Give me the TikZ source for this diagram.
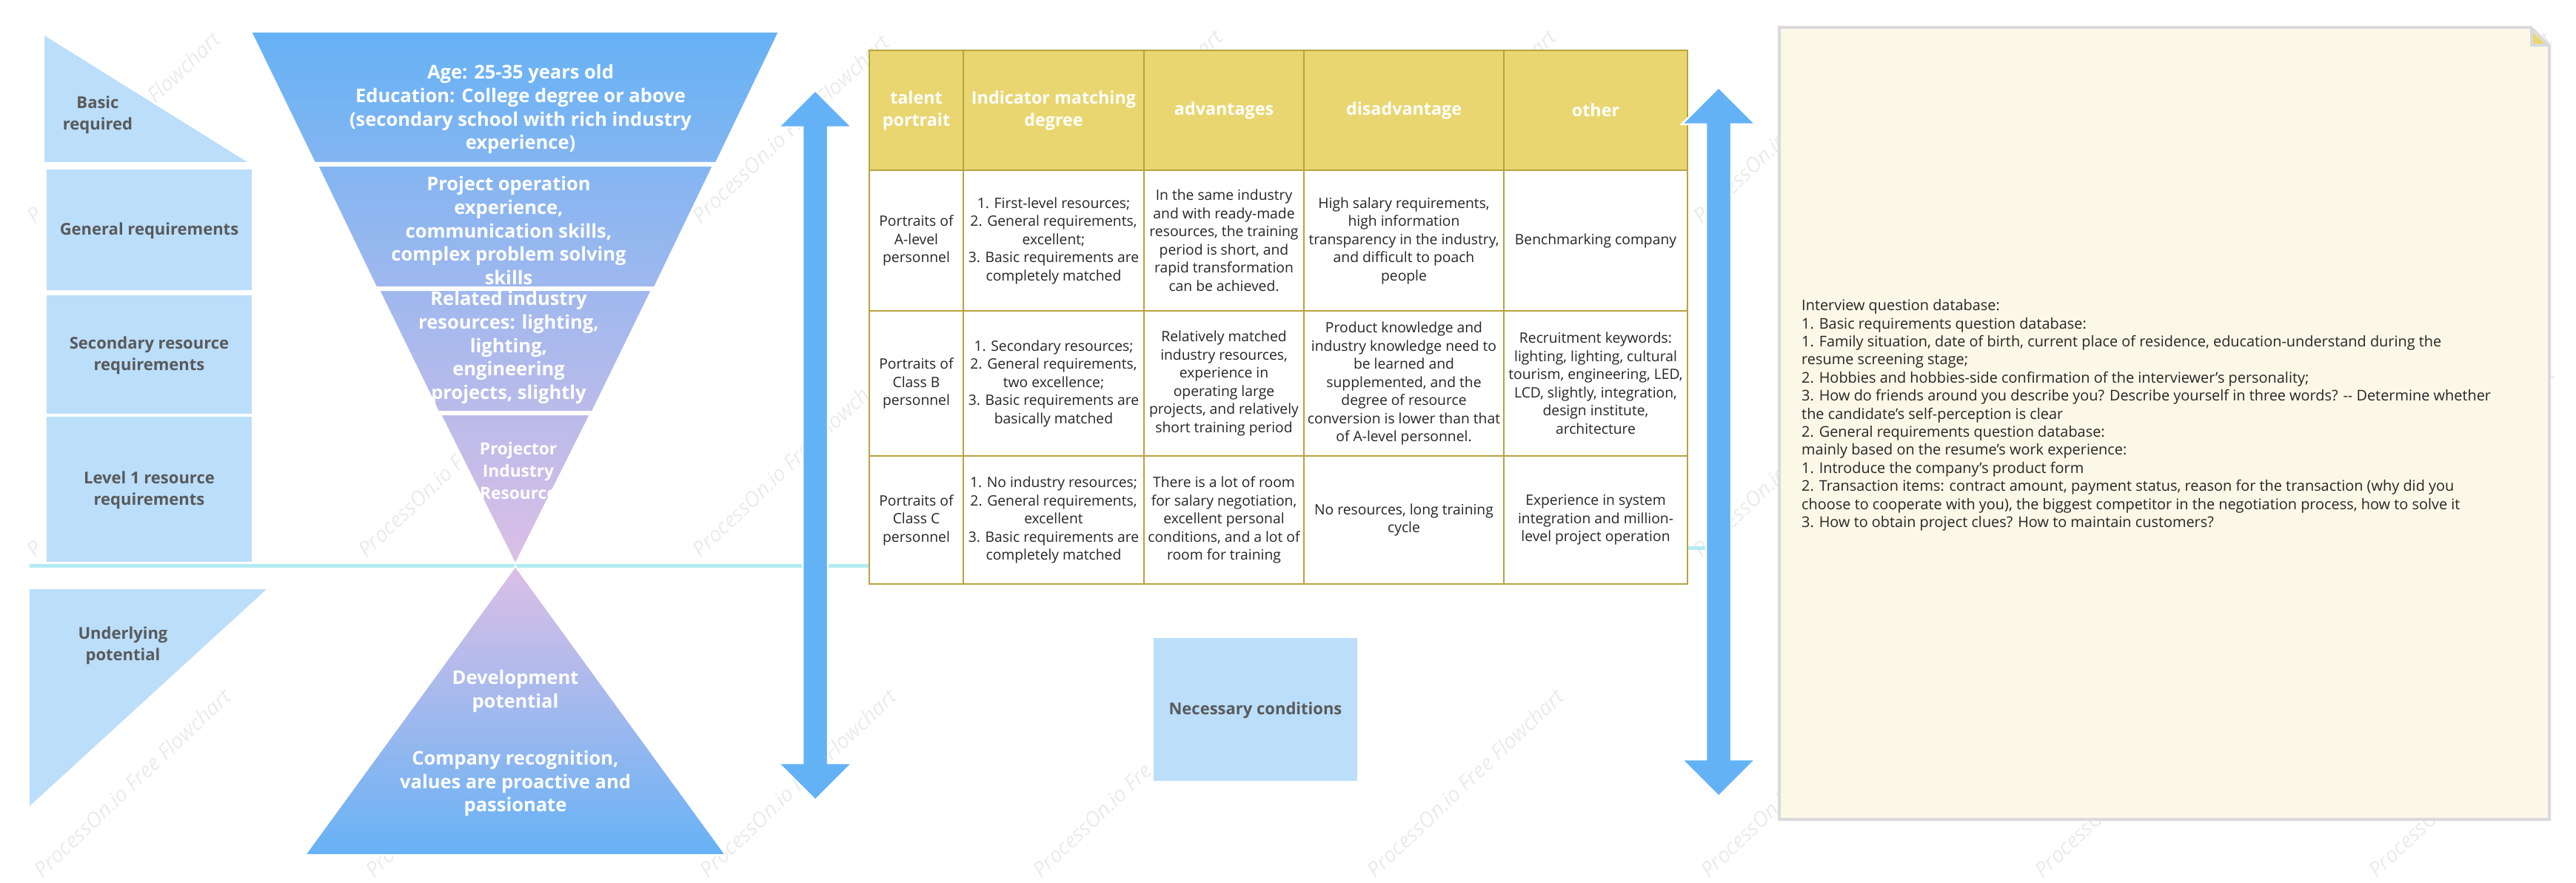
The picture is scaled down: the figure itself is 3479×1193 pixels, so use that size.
\documentclass[tikz,border=0pt]{standalone}
\usepackage{fontspec}
\setmainfont{Open Sans}
\definecolor{SoftBlue}{HTML}{BBDEFB}
\definecolor{ArrowBlue}{HTML}{64B2F6}
\definecolor{AxisCyan}{HTML}{B2EBF2}
\definecolor{LabelGray}{HTML}{5A5A5A}
\definecolor{HeadYellow}{HTML}{E9D670}
\definecolor{GridOlive}{HTML}{B8A33F}
\definecolor{NoteCream}{HTML}{FCF8E8}
\definecolor{NoteEdge}{HTML}{DADADA}
\definecolor{MarkGray}{HTML}{EBEBEB}
\definecolor{FunA}{RGB}{102,178,245}
\definecolor{FunB}{RGB}{131,181,241}
\definecolor{FunC}{RGB}{159,184,238}
\definecolor{FunD}{RGB}{186,187,234}
\definecolor{FunE}{RGB}{220,191,230}

\begin{document}
\begin{tikzpicture}[x=1pt,y=-1pt]
	\tikzstyle{SoftShape}=[fill=SoftBlue,draw=white,line width=2pt]
	\tikzstyle{LabelStyle}=[inner sep=0pt,yshift=-1.5pt,align=center,text=LabelGray,font=\fontsize{22}{28.5}\selectfont\bfseries]
	\tikzstyle{FunnelPart}=[draw=white,line width=2pt]
	\tikzstyle{FunnelText}=[inner sep=0pt,yshift=-1.5pt,align=center,text=white,font=\fontsize{25.5}{31.8}\selectfont\bfseries]
	\tikzstyle{Cell}=[draw=GridOlive,line width=1.2pt,fill=white,inner sep=0pt,align=center,text=black!85,font=\fontsize{19.3}{24.5}\selectfont]
	\tikzstyle{HeadCell}=[Cell,fill=HeadYellow,text=white,font=\fontsize{23.3}{30}\selectfont\bfseries]
	\tikzstyle{ColA}=[minimum width=127pt]
	\tikzstyle{ColB}=[minimum width=244pt]
	\tikzstyle{ColC}=[minimum width=216pt]
	\tikzstyle{ColD}=[minimum width=270pt]
	\tikzstyle{ColE}=[minimum width=248pt]
	\tikzstyle{RowH}=[minimum height=162pt]
	\tikzstyle{RowA}=[minimum height=190pt]
	\tikzstyle{RowB}=[minimum height=196pt]
	\tikzstyle{RowC}=[minimum height=173pt]
	\tikzstyle{AxisLine}=[draw=AxisCyan,line width=5pt]
	\tikzstyle{WaterMark}=[inner sep=0pt,anchor=west,text=MarkGray,rotate=43.5,font=\fontsize{28.5}{28.5}\selectfont\itshape]
	\useasboundingbox (0,0) rectangle (3479,1193);
	% faint marks, only what shows past the shapes
	\foreach \mx/\my/\mtext [count=\mi] in {40/296/P,203/133/Flowchart,40/747/P,50/1180/ProcessOn.io Free Flowchart,
			488/747/ProcessOn.io F,498/1180/Proc,939/296/ProcessOn.io Free Flowchart,939/747/ProcessOn.io Free Flowch,
			949/1180/ProcessOn.io Free Flowchart,1620/72/art,1399/1180/ProcessOn.io Fre,2071/72/art,
			1850/1180/ProcessOn.io Free Flowchart,2291/296/ProcessOn.io,2291/747/ProcessOn.io,2301/1180/ProcessOn.io,
			2752/1180/ProcessOn,3203/1180/ProcessOn,3436/56/t,3440/507/t}
		\node[WaterMark] (mark\mi) at (\mx,\my) {\mtext};
	\coordinate (axisL) at (40,764);
	\coordinate (axisM) at (1180,764);
	\coordinate (axisN) at (2270,740);
	\coordinate (axisR) at (2320,740);
	\draw[AxisLine] (axisL) -- (axisM);
	\draw[AxisLine] (axisN) -- (axisR);
	% left column
	\fill[SoftBlue] (60,48) -- (334,219) -- (60,219) -- cycle;
	\node[LabelStyle] (basic) at (132,154) {Basic\\required};
	\node[SoftShape,minimum width=279pt,minimum height=165pt] (general) at (201.5,310) {};
	\node[LabelStyle] (generalT) at (general) {General requirements};
	\node[SoftShape,minimum width=279pt,minimum height=162pt] (second) at (201.5,479) {};
	\node[LabelStyle] (secondT) at (second) {Secondary resource\\requirements};
	\node[SoftShape,minimum width=279pt,minimum height=198pt] (level) at (201.5,661) {};
	\node[LabelStyle] (levelT) at (level) {Level 1 resource\\requirements};
	\fill[SoftBlue] (40,796) -- (360,796) -- (40,1089) -- cycle;
	\node[LabelStyle] (under) at (166,871) {Underlying\\potential};
	% funnel
	\path[FunnelPart,top color=FunA,bottom color=FunB] (339,43) -- (1052,43) -- (967,220) -- (425,220) -- cycle;
	\path[FunnelPart,top color=FunB,bottom color=FunC] (429,224) -- (963,224) -- (884,388) -- (508,388) -- cycle;
	\path[FunnelPart,top color=FunC,bottom color=FunD] (512,392) -- (880,392) -- (800,556) -- (592,556) -- cycle;
	\path[FunnelPart,top color=FunD,bottom color=FunE] (595,560) -- (797,560) -- (696,762) -- cycle;
	\path[FunnelPart,top color=FunE,bottom color=FunA] (696,765) -- (980,1155) -- (412,1155) -- cycle;
	\node[FunnelText] (age) at (703,146) {Age: 25-35 years old\\Education: College degree or above\\(secondary school with rich industry\\experience)};
	\node[FunnelText] (project) at (687,310) {Project operation\\experience,\\communication skills,\\complex problem solving\\skills};
	\node[FunnelText] (related) at (687,468) {Related industry\\resources: lighting,\\lighting,\\engineering\\projects, slightly};
	\node[FunnelText,font=\fontsize{22.7}{30}\selectfont\bfseries] (projector) at (700,634) {Projector\\Industry\\Resource};
	\node[FunnelText] (develop) at (696,932) {Development\\potential};
	\node[FunnelText] (company) at (696,1057) {Company recognition,\\values are proactive and\\passionate};
	% table
	\node[HeadCell,ColA,RowH] (h1) at (1237.5,149) {talent\\portrait};
	\node[HeadCell,ColB,RowH] (h2) at (1423,149) {Indicator matching\\degree};
	\node[HeadCell,ColC,RowH] (h3) at (1653,149) {advantages};
	\node[HeadCell,ColD,RowH] (h4) at (1896,149) {disadvantage};
	\node[HeadCell,ColE,RowH] (h5) at (2155,149) {other};
	\node[Cell,ColA,RowA] (a1) at (1237.5,325) {Portraits of\\A-level\\personnel};
	\node[Cell,ColB,RowA] (a2) at (1423,325) {1. First-level resources;\\2. General requirements,\\excellent;\\3. Basic requirements are\\completely matched};
	\node[Cell,ColC,RowA] (a3) at (1653,325) {In the same industry\\and with ready-made\\resources, the training\\period is short, and\\rapid transformation\\can be achieved.};
	\node[Cell,ColD,RowA] (a4) at (1896,325) {High salary requirements,\\high information\\transparency in the industry,\\and difficult to poach\\people};
	\node[Cell,ColE,RowA] (a5) at (2155,325) {Benchmarking company};
	\node[Cell,ColA,RowB] (b1) at (1237.5,518) {Portraits of\\Class B\\personnel};
	\node[Cell,ColB,RowB] (b2) at (1423,518) {1. Secondary resources;\\2. General requirements,\\two excellence;\\3. Basic requirements are\\basically matched};
	\node[Cell,ColC,RowB] (b3) at (1653,518) {Relatively matched\\industry resources,\\experience in\\operating large\\projects, and relatively\\short training period};
	\node[Cell,ColD,RowB] (b4) at (1896,518) {Product knowledge and\\industry knowledge need to\\be learned and\\supplemented, and the\\degree of resource\\conversion is lower than that\\of A-level personnel.};
	\node[Cell,ColE,RowB] (b5) at (2155,518) {Recruitment keywords:\\lighting, lighting, cultural\\tourism, engineering, LED,\\LCD, slightly, integration,\\design institute,\\architecture};
	\node[Cell,ColA,RowC] (c1) at (1237.5,702.5) {Portraits of\\Class C\\personnel};
	\node[Cell,ColB,RowC] (c2) at (1423,702.5) {1. No industry resources;\\2. General requirements,\\excellent\\3. Basic requirements are\\completely matched};
	\node[Cell,ColC,RowC] (c3) at (1653,702.5) {There is a lot of room\\for salary negotiation,\\excellent personal\\conditions, and a lot of\\room for training};
	\node[Cell,ColD,RowC] (c4) at (1896,702.5) {No resources, long training\\cycle};
	\node[Cell,ColE,RowC] (c5) at (2155,702.5) {Experience in system\\integration and million-\\level project operation};
	\node[SoftShape,draw=none,minimum width=275pt,minimum height=193pt] (needed) at (1695.5,958.5) {};
	\node[LabelStyle] (neededT) at (needed) {Necessary conditions};
	% double arrows
	\foreach \ax/\atop/\abot in {1101/122/1081,2321/118/1076}
		\filldraw[fill=ArrowBlue,draw=white,line width=2.5pt] (\ax,\atop) -- ({\ax+50},{\atop+50}) -- ({\ax+17},{\atop+50}) -- ({\ax+17},{\abot-50}) -- ({\ax+50},{\abot-50}) -- (\ax,\abot) -- ({\ax-50},{\abot-50}) -- ({\ax-17},{\abot-50}) -- ({\ax-17},{\atop+50}) -- ({\ax-50},{\atop+50}) -- cycle;
	% note
	\filldraw[fill=NoteCream,draw=NoteEdge,line width=4pt] (2403,37) -- (3418,37) -- (3443,62) -- (3443,1107) -- (2403,1107) -- cycle;
	\draw[draw=NoteEdge,line width=4pt] (3419,37) -- (3419,61) -- (3443,61);
	\fill[HeadYellow] (3421,44) -- (3421,59) -- (3437,59) -- cycle;
	\node[inner sep=0pt,anchor=west,align=left,text=black!85,font=\fontsize{19.9}{24.4}\selectfont] (questions) at (2433,561) {Interview question database:\\
1. Basic requirements question database:\\
1. Family situation, date of birth, current place of residence, education-understand during the\\
resume screening stage;\\
2. Hobbies and hobbies-side confirmation of the interviewer's personality;\\
3. How do friends around you describe you? Describe yourself in three words? {-}{-} Determine whether\\
the candidate's self-perception is clear\\
2. General requirements question database:\\
mainly based on the resume's work experience:\\
1. Introduce the company's product form\\
2. Transaction items: contract amount, payment status, reason for the transaction (why did you\\
choose to cooperate with you), the biggest competitor in the negotiation process, how to solve it\\
3. How to obtain project clues? How to maintain customers?};
\end{tikzpicture}
\end{document}
